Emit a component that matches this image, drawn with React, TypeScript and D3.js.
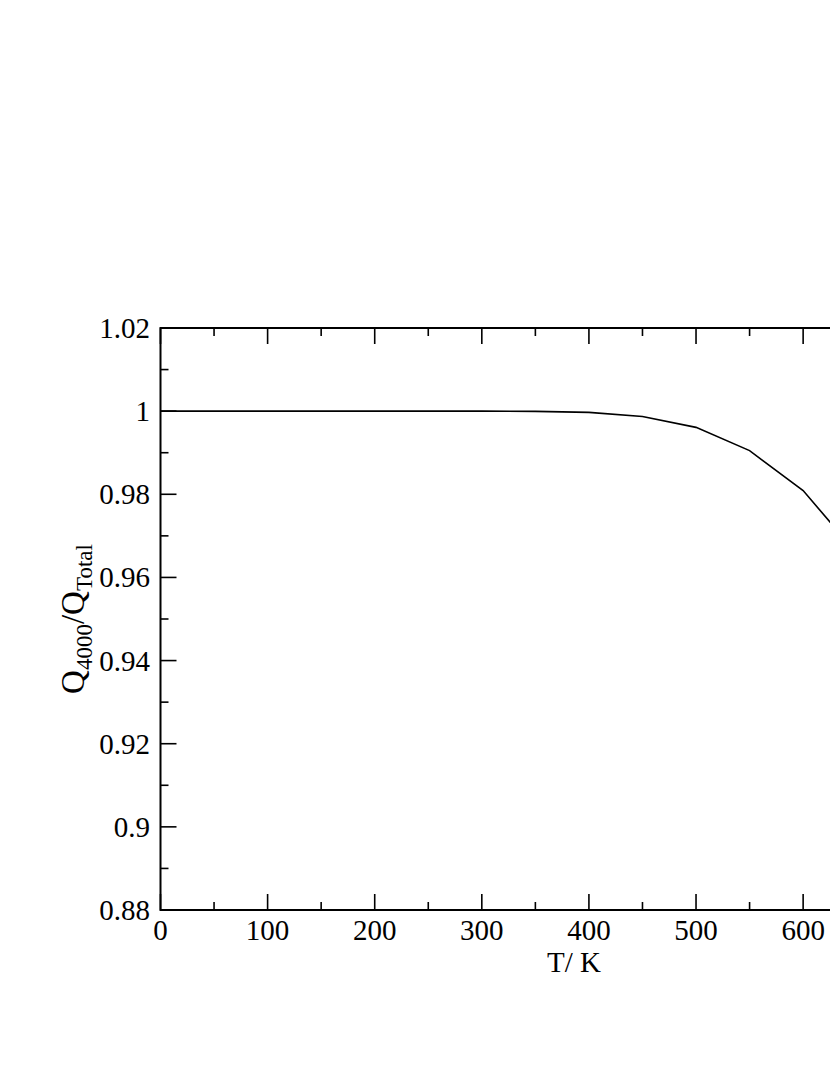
import React from "react";
import * as d3 from "d3";

const temperatures = [0, 50, 100, 150, 200, 250, 300, 350, 400, 450, 500, 550, 600, 650, 700, 750];
const ratio = [1.0, 1.0, 1.0, 1.0, 1.0, 1.0, 1.0, 0.99995, 0.9997, 0.9987, 0.9961, 0.9905, 0.9809, 0.9658, 0.946, 0.922];
const xMajorTicks = [0, 100, 200, 300, 400, 500, 600, 700];
const xMinorTicks = [50, 150, 250, 350, 450, 550, 650, 750];
const yMajorTicks = [0.88, 0.9, 0.92, 0.94, 0.96, 0.98, 1.0, 1.02];
const yMinorTicks = [0.89, 0.91, 0.93, 0.95, 0.97, 0.99, 1.01];
const yTickLabels = ["0.88", "0.9", "0.92", "0.94", "0.96", "0.98", "1", "1.02"];

export default function App() {
  const W = 830, H = 1075;
  const left = 160.5, right = 988, top = 328, bottom = 910;
  const x = d3.scaleLinear().domain([0, 772.6]).range([left, right]);
  const y = d3.scaleLinear().domain([0.88, 1.02]).range([bottom, top]);
  const line = d3.line<number>().x((_, i) => x(temperatures[i])).y((d) => y(d));
  const font = "'Liberation Serif', 'Times New Roman', serif";
  const major = 16, minor = 8;
  return (
    <svg width={W} height={H} style={{ position: "absolute", left: 0, top: 0, background: "#fff" }}>
      <defs>
        <clipPath id="plot">
          <rect x={left} y={top} width={right - left} height={bottom - top} />
        </clipPath>
      </defs>
      <path d={line(ratio) || ""} fill="none" stroke="#000" strokeWidth={1.6} clipPath="url(#plot)" />
      <rect x={left} y={top} width={right - left} height={bottom - top} fill="none" stroke="#000" strokeWidth={2} />
      {xMajorTicks.map((t) => (
        <g key={"xm" + t}>
          <line x1={x(t)} x2={x(t)} y1={bottom} y2={bottom - major} stroke="#000" strokeWidth={1.6} />
          <line x1={x(t)} x2={x(t)} y1={top} y2={top + major} stroke="#000" strokeWidth={1.6} />
          {x(t) < W - 20 && (
            <text x={x(t)} y={940} textAnchor="middle" fontFamily={font} fontSize={29}>{t}</text>
          )}
        </g>
      ))}
      {xMinorTicks.map((t) => (
        <g key={"xn" + t}>
          <line x1={x(t)} x2={x(t)} y1={bottom} y2={bottom - minor} stroke="#000" strokeWidth={1.6} />
          <line x1={x(t)} x2={x(t)} y1={top} y2={top + minor} stroke="#000" strokeWidth={1.6} />
        </g>
      ))}
      {yMajorTicks.map((t, i) => (
        <g key={"ym" + t}>
          <line x1={left} x2={left + major} y1={y(t)} y2={y(t)} stroke="#000" strokeWidth={1.6} />
          <line x1={right} x2={right - major} y1={y(t)} y2={y(t)} stroke="#000" strokeWidth={1.6} />
          <text x={150} y={y(t) + 10} textAnchor="end" fontFamily={font} fontSize={29}>{yTickLabels[i]}</text>
        </g>
      ))}
      {yMinorTicks.map((t) => (
        <g key={"yn" + t}>
          <line x1={left} x2={left + minor} y1={y(t)} y2={y(t)} stroke="#000" strokeWidth={1.6} />
          <line x1={right} x2={right - minor} y1={y(t)} y2={y(t)} stroke="#000" strokeWidth={1.6} />
        </g>
      ))}
      <text x={574} y={972} textAnchor="middle" fontFamily={font} fontSize={29}>T/ K</text>
      <text transform={`translate(84, ${(top + bottom) / 2}) rotate(-90)`} textAnchor="middle" fontFamily={font} fontSize={33}>
        Q<tspan fontSize={23} dy={8}>4000</tspan><tspan dy={-8}>/Q</tspan><tspan fontSize={23} dy={8}>Total</tspan>
      </text>
    </svg>
  );
}
